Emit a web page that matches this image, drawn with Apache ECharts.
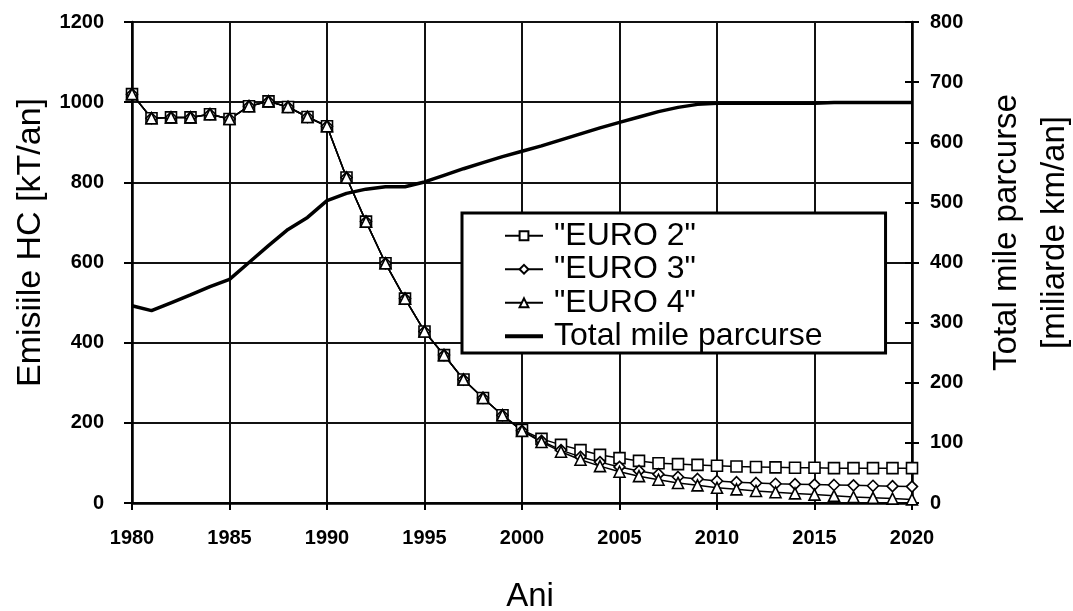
<!DOCTYPE html>
<html>
<head>
<meta charset="utf-8">
<title>Emisiile HC</title>
<script src="https://cdn.jsdelivr.net/npm/echarts@6/dist/echarts.min.js"></script>
<style>
  html, body { margin: 0; padding: 0; background: #ffffff; overflow: hidden; }
  #chart { width: 1073px; height: 611px; }
</style>
</head>
<body>
<div id="chart"></div>
<script>
// Years on the horizontal axis
const years = [1980, 1981, 1982, 1983, 1984, 1985, 1986, 1987, 1988, 1989,
               1990, 1991, 1992, 1993, 1994, 1995, 1996, 1997, 1998, 1999,
               2000, 2001, 2002, 2003, 2004, 2005, 2006, 2007, 2008, 2009,
               2010, 2011, 2012, 2013, 2014, 2015, 2016, 2017, 2018, 2019, 2020];

// HC emissions [kT/an] per scenario
const euro2 = [1020, 960, 962, 962, 970, 958, 990, 1002, 988, 963,
               940, 812, 702, 598, 510, 428, 369, 308, 262, 219,
               182, 160, 145, 132, 120, 112, 105, 99, 97, 95,
               93, 91, 90, 89, 88, 88, 87, 87, 87, 87, 87];
const euro3 = [1020, 960, 962, 962, 970, 958, 990, 1002, 988, 963,
               940, 812, 702, 598, 510, 428, 369, 308, 262, 219,
               180, 155, 132, 115, 102, 90, 80, 72, 65, 60,
               55, 52, 50, 48, 47, 46, 45, 44, 43, 42, 41];
const euro4 = [1020, 960, 962, 962, 970, 958, 990, 1002, 988, 963,
               940, 812, 702, 598, 510, 428, 369, 308, 262, 219,
               180, 152, 128, 108, 92, 78, 67, 58, 50, 44,
               38, 34, 30, 27, 24, 21, 18, 15, 13, 11, 9];

// Total distance travelled [miliarde km/an]
const totalMile = [328, 320, 333, 346, 360, 372, 400, 428, 455, 475,
                   503, 515, 522, 526, 526, 534, 545, 556, 566, 576,
                   585, 594, 604, 614, 624, 633, 642, 651, 658, 663,
                   665, 665, 665, 665, 665, 665, 666, 666, 666, 666, 666];

const seriesNames = ['"EURO 2"', '"EURO 3"', '"EURO 4"', 'Total mile parcurse'];

const pairs = (vals) => years.map((y, i) => [y, vals[i]]);

const FONT = "'Liberation Sans', Arial, sans-serif";
const INK = '#000000';

const tickLabel = { color: INK, fontFamily: FONT, fontSize: 20, fontWeight: 'bold', formatter: (v) => String(v) };
const gridLine = { show: true, lineStyle: { color: '#111', width: 2 } };

function emissionSeries(name, vals, symbol, size) {
  return {
    name: name,
    type: 'line',
    data: pairs(vals),
    xAxisIndex: 0,
    yAxisIndex: 0,
    symbol: symbol,
    symbolSize: size,
    showAllSymbol: true,
    lineStyle: { color: INK, width: 1.5 },
    itemStyle: { color: '#ffffff', borderColor: INK, borderWidth: 1.6 },
    emphasis: { disabled: true },
    animation: false,
    z: 3
  };
}

const chart = echarts.init(document.getElementById('chart'), null, { renderer: 'canvas', width: 1073, height: 611 });

chart.setOption({
  backgroundColor: '#ffffff',
  animation: false,
  grid: { left: 132, top: 22, width: 780, height: 481, containLabel: false, outerBoundsMode: 'none' },
  legend: {
    data: [
      { name: seriesNames[0] },
      { name: seriesNames[1] },
      { name: seriesNames[2] },
      { name: seriesNames[3], itemStyle: { opacity: 0 }, lineStyle: { width: 4 } }
    ],
    orient: 'vertical',
    left: 462,
    top: 213,
    padding: [6, 63, 0, 41],
    itemGap: 0,
    itemWidth: 38,
    itemHeight: 11,
    backgroundColor: '#ffffff',
    borderColor: INK,
    borderWidth: 3,
    borderRadius: 0,
    textStyle: { color: INK, fontFamily: FONT, fontSize: 32, lineHeight: 33.5, padding: [0, 0, 0, 6] },
    selectedMode: false
  },
  xAxis: {
    type: 'value',
    min: 1980,
    max: 2020,
    interval: 5,
    name: 'Ani',
    nameLocation: 'middle',
    nameGap: 77,
    nameTextStyle: { color: INK, fontFamily: FONT, fontSize: 33, padding: [0, 0, 0, 16] },
    axisLine: { show: true, onZero: false, lineStyle: { color: INK, width: 2.5 } },
    axisTick: { show: true, inside: false, length: 7, lineStyle: { color: INK, width: 2 } },
    axisLabel: Object.assign({ margin: 25 }, tickLabel),
    splitLine: gridLine
  },
  yAxis: [
    {
      type: 'value',
      position: 'left',
      min: 0,
      max: 1200,
      interval: 200,
      name: 'Emisiile HC [kT/an]',
      nameLocation: 'middle',
      nameGap: 84,
      nameTextStyle: { color: INK, fontFamily: FONT, fontSize: 34, padding: [0, 0, 0, 40] },
      axisLine: { show: true, lineStyle: { color: INK, width: 2.5 } },
      axisTick: { show: true, inside: false, length: 8, lineStyle: { color: INK, width: 2 } },
      axisLabel: Object.assign({ margin: 28 }, tickLabel),
      splitLine: gridLine
    },
    {
      type: 'value',
      position: 'right',
      min: 0,
      max: 800,
      interval: 100,
      name: 'Total mile parcurse\n[miliarde km/an]',
      nameLocation: 'middle',
      nameGap: 71,
      nameTextStyle: { color: INK, fontFamily: FONT, fontSize: 33, lineHeight: 48, padding: [0, 0, 0, 60] },
      axisLine: { show: true, lineStyle: { color: INK, width: 2.5 } },
      axisTick: { show: true, inside: false, length: 7, lineStyle: { color: INK, width: 2 } },
      axisLabel: Object.assign({ margin: 18 }, tickLabel),
      splitLine: { show: false }
    },
    {
      // inner half of the crossing ticks on the right axis
      type: 'value',
      position: 'right',
      min: 0,
      max: 800,
      interval: 100,
      axisLine: { show: false },
      axisTick: { show: true, inside: true, length: 7, lineStyle: { color: INK, width: 2 } },
      axisLabel: { show: false },
      splitLine: { show: false }
    }
  ],
  series: [
    emissionSeries(seriesNames[0], euro2, 'rect', 11),
    emissionSeries(seriesNames[1], euro3, 'diamond', 11),
    emissionSeries(seriesNames[2], euro4, 'triangle', 11),
    {
      name: seriesNames[3],
      type: 'line',
      data: pairs(totalMile),
      xAxisIndex: 0,
      yAxisIndex: 1,
      symbol: 'none',
      lineStyle: { color: INK, width: 3.5 },
      itemStyle: { color: INK },
      emphasis: { disabled: true },
      animation: false,
      z: 2
    }
  ]
});
</script>
</body>
</html>
